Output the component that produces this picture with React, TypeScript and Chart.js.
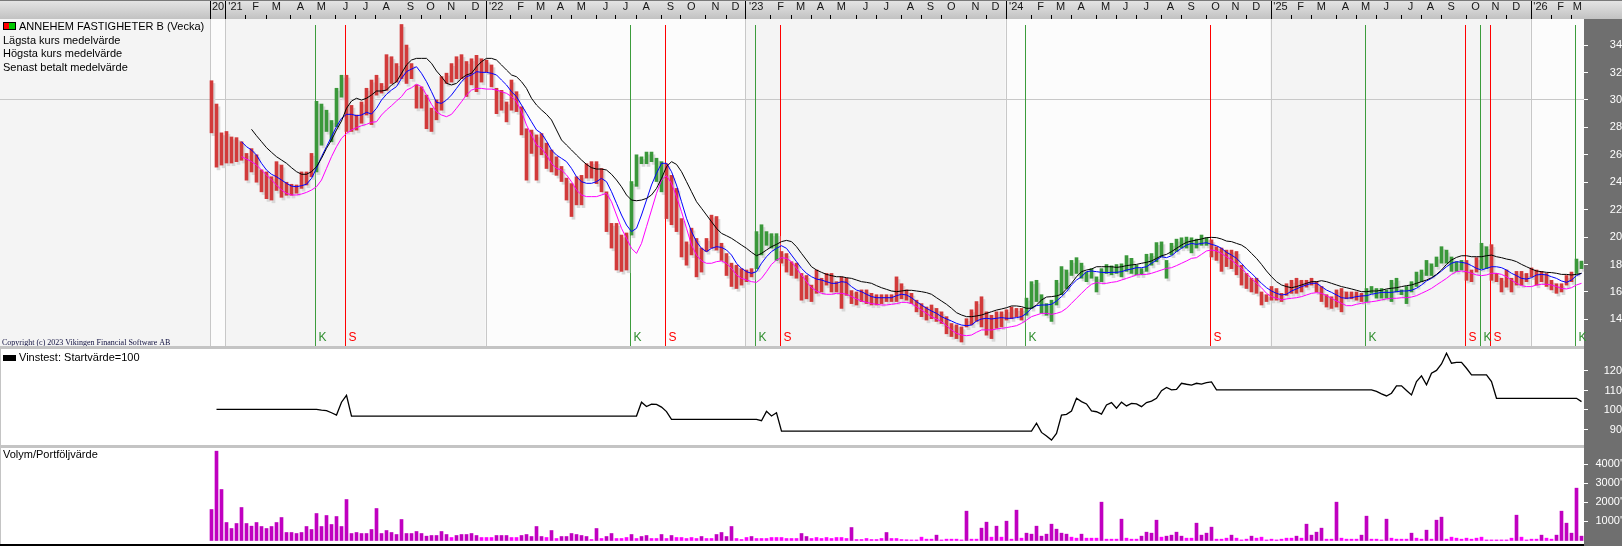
import React, { useEffect, useRef } from 'react';
import { Chart, registerables } from 'chart.js';

Chart.register(...registerables);

// ================= DATA =================
// Weekly bars, week 0 = week of 2020-12-14
const FIRST_WEEK_UTC = Date.UTC(2020, 11, 14);
const LAST_MONTH = { year: 2026, month: 2 };
const MONTH_LETTERS = ['J', 'F', 'M', 'A', 'M', 'J', 'J', 'A', 'S', 'O', 'N', 'D'];

const HIGH = [
  31.4, 29.7, 27.6, 27.7, 27.3, 27.25, 26.95, 26.1, 26.45, 26.0,
  24.9, 24.75, 24.4, 25.5, 25.25, 24.0, 23.85, 23.8, 24.75, 24.75,
  26.1, 29.9, 29.7, 29.25, 28.5, 30.85, 31.8, 31.8, 29.6, 28.9,
  29.85, 30.85, 31.45, 31.8, 31.2, 33.3, 33.15, 32.65, 35.5, 34.0,
  32.65, 31.1, 30.95, 30.35, 29.4, 30.0, 31.7, 31.95, 32.65, 33.15,
  33.3, 32.8, 33.0, 33.25, 33.0, 32.9, 32.55, 30.85, 30.7, 29.85,
  31.45, 30.6, 29.5, 27.9, 27.8, 27.45, 27.55, 26.85, 26.35, 25.85,
  25.15, 24.3, 23.9, 24.4, 24.5, 25.35, 25.5, 25.5, 25.0, 23.3,
  21.0, 21.0, 20.15, 20.3, 24.05, 26.0, 25.85, 26.2, 26.2, 25.75,
  25.5, 25.35, 24.5, 23.55, 21.35, 19.65, 20.65, 19.9, 19.2, 19.9,
  21.6, 21.5, 19.55, 18.8, 18.1, 17.95, 17.7, 17.6, 17.7, 20.4,
  20.9, 20.4, 20.25, 20.25, 18.95, 18.8, 18.2, 18.1, 17.35, 17.2,
  16.5, 17.6, 17.0, 17.35, 17.35, 16.75, 17.1, 17.0, 16.1, 16.0,
  16.15, 16.15, 15.9, 15.8, 15.8, 15.8, 15.8, 17.1, 16.6, 16.15,
  15.9, 15.4, 15.15, 14.9, 15.05, 14.8, 14.55, 14.2, 13.7, 13.6,
  13.45, 14.05, 14.7, 15.3, 15.65, 14.55, 14.3, 14.55, 14.55, 14.7,
  14.9, 14.8, 14.8, 15.55, 16.75, 16.85, 15.8, 15.15, 15.4, 16.85,
  17.85, 17.6, 18.3, 18.5, 18.1, 17.45, 17.7, 17.1, 17.7, 18.0,
  17.9, 18.0, 18.05, 18.65, 18.45, 17.95, 17.7, 18.75, 18.8, 19.6,
  19.65, 18.3, 19.55, 19.85, 19.95, 20.0, 19.95, 19.85, 20.15, 19.95,
  19.8, 19.3, 19.2, 19.05, 19.05, 18.95, 17.95, 17.35, 17.0, 17.0,
  16.0, 15.8, 16.4, 16.25, 15.9, 16.6, 16.85, 17.0, 16.85, 16.85,
  17.0, 16.75, 16.4, 15.8, 15.65, 16.15, 16.25, 16.0, 16.0, 16.0,
  15.9, 16.25, 16.4, 16.25, 16.25, 16.15, 16.85, 17.0, 16.15, 16.4,
  16.75, 17.45, 17.6, 18.3, 18.05, 18.55, 19.3, 19.05, 18.55, 18.2,
  18.3, 18.3, 17.6, 18.5, 19.55, 19.3, 19.45, 17.35, 17.0, 17.6,
  17.0, 17.5, 17.5, 17.35, 17.75, 17.6, 17.5, 17.35, 16.85, 16.6,
  16.6, 17.2, 17.45, 18.4, 18.25,
];

const LOW = [
  27.6, 25.1, 25.25, 25.4, 25.4, 25.5, 25.6, 24.15, 24.75, 24.0,
  23.3, 22.8, 22.7, 23.4, 22.9, 23.05, 23.05, 23.2, 23.55, 23.8,
  24.4, 24.75, 26.7, 27.7, 26.95, 28.05, 30.2, 27.7, 27.7, 27.8,
  28.3, 28.9, 28.2, 30.35, 30.5, 30.7, 31.2, 31.3, 31.55, 31.2,
  31.55, 29.4, 29.4, 27.9, 27.7, 28.55, 29.25, 31.2, 31.3, 31.55,
  31.55, 30.25, 31.1, 30.6, 31.3, 32.05, 30.95, 29.0, 29.25, 28.4,
  29.25, 29.15, 27.45, 24.15, 26.1, 24.15, 26.0, 25.0, 24.75, 24.5,
  24.05, 22.7, 21.5, 22.35, 22.35, 24.3, 24.3, 23.9, 23.3, 20.4,
  19.2, 17.6, 17.5, 17.6, 20.15, 23.7, 25.35, 25.35, 25.5, 24.05,
  23.3, 21.35, 20.9, 20.4, 18.55, 17.95, 18.7, 17.1, 17.45, 18.95,
  19.2, 19.05, 18.3, 17.2, 16.4, 16.25, 16.5, 16.75, 17.1, 17.7,
  18.7, 19.4, 19.2, 18.3, 18.1, 17.45, 17.2, 17.0, 15.4, 15.5,
  15.3, 15.9, 16.0, 16.5, 16.0, 16.0, 14.8, 15.75, 15.15, 15.05,
  15.3, 15.15, 15.05, 15.05, 15.15, 15.3, 15.3, 15.3, 15.5, 15.4,
  15.15, 14.55, 14.2, 13.95, 14.05, 13.85, 13.7, 12.95, 12.75, 12.6,
  12.35, 13.45, 13.6, 13.85, 13.45, 12.85, 12.6, 13.35, 13.45, 13.95,
  14.05, 14.2, 13.95, 14.3, 14.8, 15.3, 14.45, 14.3, 13.85, 15.05,
  15.8, 16.25, 17.2, 17.35, 17.0, 16.75, 17.0, 16.0, 16.75, 17.35,
  17.25, 17.35, 17.1, 17.5, 17.35, 17.25, 17.25, 17.5, 17.95, 18.2,
  18.55, 17.0, 18.7, 18.95, 19.2, 19.2, 18.85, 19.2, 19.4, 19.4,
  18.55, 18.3, 17.5, 17.85, 17.7, 17.25, 16.5, 16.25, 16.0, 15.9,
  15.05, 15.3, 15.4, 15.4, 15.3, 15.75, 15.9, 15.9, 16.0, 16.35,
  16.5, 16.0, 15.3, 14.9, 14.8, 14.9, 14.55, 15.5, 15.5, 15.4,
  15.3, 15.3, 15.9, 15.55, 15.55, 15.55, 15.3, 16.0, 15.8, 15.15,
  16.0, 16.4, 16.75, 17.2, 17.2, 17.85, 18.1, 18.1, 17.5, 17.5,
  17.6, 16.85, 16.75, 17.45, 17.7, 17.7, 16.85, 16.75, 16.0, 16.35,
  16.0, 16.5, 16.5, 16.75, 17.1, 16.5, 16.75, 16.4, 16.15, 15.9,
  16.0, 16.5, 16.75, 17.35, 17.7,
];

// "Högsta kurs medelvärde" (black)
const HIGH_AVG = [
  null, null, null, null, null, null, null, null, 27.86, 27.39,
  26.96, 26.52, 26.18, 25.86, 25.62, 25.38, 25.06, 24.77, 24.58, 24.58,
  24.77, 25.13, 25.74, 26.47, 27.08, 27.81, 28.46, 29.39, 29.92, 30.12,
  29.99, 30.12, 30.36, 30.65, 30.65, 30.72, 31.09, 31.33, 31.94, 32.55,
  32.91, 33.03, 33.03, 33.03, 32.67, 32.11, 31.69, 31.21, 31.09, 31.21,
  31.57, 31.82, 31.94, 32.42, 32.79, 33.03, 33.03, 32.91, 32.55, 32.18,
  31.82, 31.69, 31.33, 30.84, 30.12, 29.63, 29.27, 28.95, 28.54, 27.81,
  27.08, 26.71, 26.35, 25.98, 25.62, 25.3, 25.06, 24.96, 24.96, 24.89,
  24.58, 24.16, 23.67, 23.07, 22.7, 22.65, 22.7, 22.82, 23.07, 23.55,
  24.28, 25.13, 25.5, 25.3, 24.77, 24.04, 23.31, 22.58, 22.1, 21.61,
  21.12, 20.64, 20.27, 20.1, 19.91, 19.67, 19.42, 19.18, 18.89, 18.64,
  18.81, 19.06, 19.3, 19.47, 19.67, 19.76, 19.67, 19.3, 18.81, 18.33,
  17.84, 17.6, 17.43, 17.28, 17.19, 17.11, 17.11, 17.04, 16.99, 16.87,
  16.75, 16.7, 16.63, 16.46, 16.31, 16.19, 16.07, 16.02, 16.07, 16.12,
  16.12, 16.07, 16.02, 15.95, 15.83, 15.58, 15.34, 15.1, 14.81, 14.49,
  14.32, 14.2, 14.2, 14.25, 14.32, 14.44, 14.56, 14.68, 14.76, 14.85,
  14.98, 14.98, 14.93, 14.81, 14.81, 15.05, 15.41, 15.63, 15.66, 15.71,
  15.83, 16.22, 16.63, 17.11, 17.48, 17.6, 17.67, 17.84, 17.84, 17.84,
  17.84, 17.79, 17.84, 17.92, 17.97, 18.01, 18.09, 18.16, 18.26, 18.45,
  18.64, 18.74, 18.94, 19.18, 19.42, 19.62, 19.71, 19.79, 19.86, 19.96,
  19.98, 19.96, 19.86, 19.71, 19.67, 19.54, 19.42, 19.18, 18.81, 18.45,
  18.01, 17.53, 17.11, 16.75, 16.51, 16.39, 16.31, 16.39, 16.51, 16.63,
  16.75, 16.75, 16.82, 16.75, 16.63, 16.51, 16.39, 16.31, 16.22, 16.12,
  16.02, 16.02, 16.07, 16.07, 16.12, 16.22, 16.27, 16.31, 16.39, 16.46,
  16.51, 16.63, 16.75, 16.87, 17.04, 17.28, 17.6, 18.01, 18.33, 18.52,
  18.64, 18.64, 18.57, 18.57, 18.57, 18.64, 18.69, 18.57, 18.5, 18.4,
  18.33, 18.21, 18.01, 17.84, 17.67, 17.53, 17.48, 17.43, 17.41, 17.36,
  17.28, 17.28, 17.24, 17.28, 17.36,
];

// "Senast betalt medelvärde" (blue)
const CLOSE_AVG = [
  null, null, null, null, null, null, 26.96, 26.59, 26.35, 25.98,
  25.38, 24.89, 24.58, 24.4, 24.16, 23.92, 23.72, 23.67, 23.75, 23.85,
  24.28, 25.01, 25.86, 26.59, 27.32, 28.05, 28.66, 28.95, 28.95, 28.85,
  28.9, 29.1, 28.97, 29.39, 29.99, 30.41, 30.72, 30.97, 31.57, 32.06,
  32.25, 32.42, 31.94, 31.33, 30.6, 29.82, 29.75, 29.99, 30.36, 30.84,
  31.33, 31.69, 31.82, 32.06, 32.01, 32.01, 31.94, 31.82, 31.45, 31.09,
  30.6, 30.24, 29.63, 29.02, 28.41, 27.81, 27.56, 27.0, 26.35, 25.98,
  25.74, 25.5, 25.01, 24.4, 24.04, 23.92, 23.92, 24.04, 24.28, 24.04,
  23.31, 22.46, 21.61, 20.88, 20.4, 20.64, 21.61, 22.7, 23.8, 24.65,
  25.38, 25.38, 24.77, 23.8, 22.58, 21.37, 20.4, 19.67, 19.18, 18.94,
  19.18, 19.3, 19.25, 19.06, 18.69, 18.09, 17.72, 17.48, 17.36, 17.48,
  18.09, 18.57, 18.94, 19.18, 19.37, 19.18, 18.69, 18.21, 17.72, 17.36,
  17.11, 16.94, 16.87, 16.75, 16.63, 16.63, 16.75, 16.7, 16.39, 16.14,
  16.02, 15.83, 15.66, 15.58, 15.58, 15.58, 15.58, 15.73, 15.83, 15.78,
  15.58, 15.29, 15.05, 14.81, 14.61, 14.44, 14.2, 14.03, 13.88, 13.71,
  13.59, 13.54, 13.59, 13.88, 14.03, 14.08, 14.03, 14.08, 14.13, 14.08,
  14.08, 14.13, 14.2, 14.44, 14.81, 15.0, 15.05, 15.05, 15.1, 15.34,
  15.66, 16.02, 16.51, 16.87, 17.11, 17.48, 17.53, 17.48, 17.43, 17.41,
  17.43, 17.43, 17.48, 17.6, 17.67, 17.77, 17.77, 17.84, 18.09, 18.33,
  18.57, 18.5, 18.64, 18.94, 19.18, 19.42, 19.54, 19.47, 19.54, 19.59,
  19.47, 19.37, 19.18, 18.89, 18.69, 18.45, 18.09, 17.67, 17.36, 16.99,
  16.63, 16.31, 16.07, 15.9, 15.78, 15.83, 16.07, 16.22, 16.39, 16.51,
  16.63, 16.63, 16.39, 16.14, 15.97, 15.78, 15.58, 15.54, 15.58, 15.66,
  15.71, 15.73, 15.83, 15.9, 15.97, 15.97, 15.97, 16.02, 16.07, 16.07,
  16.12, 16.27, 16.51, 16.8, 16.99, 17.24, 17.53, 17.84, 18.09, 18.21,
  18.16, 18.09, 17.92, 17.72, 17.6, 17.72, 17.84, 17.84, 17.77, 17.6,
  17.36, 17.19, 16.99, 16.94, 17.04, 17.24, 17.28, 17.24, 17.11, 16.99,
  16.8, 16.7, 16.87, 17.19, 17.36,
];

// "Lägsta kurs medelvärde" (magenta)
const LOW_AVG = [
  null, null, null, null, null, null, 25.86, 25.69, 25.5, 25.26,
  24.89, 24.53, 24.16, 23.8, 23.43, 23.19, 23.07, 23.07, 23.14, 23.26,
  23.43, 23.67, 24.16, 25.01, 25.86, 26.59, 27.2, 27.56, 27.81, 27.98,
  28.12, 28.22, 28.37, 28.41, 28.9, 29.27, 29.58, 29.92, 30.24, 30.72,
  30.89, 31.14, 30.97, 30.36, 29.68, 29.14, 28.9, 28.78, 28.95, 29.39,
  29.87, 30.36, 30.72, 30.84, 30.84, 30.79, 30.79, 30.72, 30.6, 30.48,
  30.24, 29.87, 29.14, 28.17, 27.44, 26.71, 26.47, 25.98, 25.38, 25.01,
  24.89, 24.53, 24.04, 23.43, 23.07, 22.95, 22.95, 22.95, 23.07, 23.19,
  22.58, 21.61, 20.64, 19.91, 19.18, 18.81, 19.54, 20.76, 21.97, 23.19,
  24.16, 24.48, 23.92, 22.95, 21.85, 20.64, 19.42, 18.69, 18.26, 18.09,
  18.09, 18.21, 18.26, 18.09, 17.72, 17.24, 16.99, 16.87, 16.75, 16.7,
  16.99, 17.48, 18.01, 18.33, 18.5, 18.45, 18.21, 17.72, 17.24, 16.75,
  16.31, 16.07, 15.9, 15.83, 15.83, 15.9, 15.9, 15.83, 15.66, 15.49,
  15.34, 15.24, 15.15, 15.1, 15.05, 15.05, 15.1, 15.15, 15.24, 15.24,
  15.15, 14.93, 14.68, 14.44, 14.2, 14.03, 13.83, 13.54, 13.23, 12.98,
  12.86, 12.81, 12.86, 13.06, 13.23, 13.23, 13.23, 13.3, 13.35, 13.4,
  13.47, 13.54, 13.71, 13.95, 14.2, 14.32, 14.44, 14.44, 14.37, 14.44,
  14.56, 14.81, 15.17, 15.54, 15.9, 16.26, 16.56, 16.68, 16.63, 16.63,
  16.7, 16.75, 16.87, 16.99, 17.11, 17.24, 17.28, 17.28, 17.36, 17.48,
  17.6, 17.72, 17.77, 17.92, 18.09, 18.26, 18.45, 18.5, 18.74, 18.99,
  19.06, 18.99, 18.81, 18.57, 18.33, 18.01, 17.72, 17.36, 16.99, 16.63,
  16.31, 15.9, 15.66, 15.54, 15.42, 15.49, 15.54, 15.58, 15.66, 15.78,
  15.9, 15.95, 15.9, 15.73, 15.54, 15.34, 15.17, 15.0, 15.0, 15.1,
  15.17, 15.24, 15.29, 15.34, 15.42, 15.49, 15.54, 15.54, 15.58, 15.58,
  15.63, 15.73, 15.9, 16.07, 16.26, 16.51, 16.75, 16.99, 17.28, 17.48,
  17.53, 17.48, 17.36, 17.24, 17.19, 17.24, 17.36, 17.36, 17.28, 17.11,
  16.87, 16.63, 16.46, 16.39, 16.39, 16.51, 16.56, 16.56, 16.51, 16.39,
  16.26, 16.22, 16.31, 16.51, 16.63,
];

// Volume (thousands)
const VOLUME = [
  1623, 4677, 2670, 942, 628, 890, 1728, 890, 750, 942,
  733, 628, 733, 942, 1204, 419, 419, 366, 419, 733,
  576, 1413, 733, 1309, 838, 1256, 733, 2146, 366, 419,
  366, 366, 576, 1675, 366, 523, 419, 314, 1099, 366,
  366, 471, 366, 227, 262, 262, 471, 314, 157, 262,
  314, 314, 366, 262, 157, 157, 157, 262, 262, 262,
  157, 157, 262, 314, 209, 733, 209, 157, 523, 105,
  209, 209, 366, 314, 262, 209, 52, 628, 105, 209,
  366, 105, 105, 157, 314, 105, 209, 262, 105, 105,
  314, 105, 262, 157, 157, 105, 157, 105, 209, 105,
  105, 314, 419, 209, 733, 105, 52, 157, 209, 105,
  105, 105, 157, 157, 157, 105, 105, 105, 366, 209,
  105, 157, 105, 157, 105, 157, 157, 105, 680, 52,
  52, 105, 52, 52, 105, 419, 105, 105, 52, 40,
  30, 30, 175, 70, 70, 280, 30, 70, 70, 70,
  30, 1536, 70, 70, 646, 960, 175, 750, 175, 1012,
  70, 1588, 122, 384, 332, 750, 227, 332, 855, 593,
  384, 332, 175, 122, 332, 122, 122, 122, 2007, 70,
  70, 70, 1117, 122, 70, 70, 227, 436, 384, 1064,
  175, 227, 280, 436, 227, 122, 122, 907, 280, 384,
  698, 70, 70, 122, 280, 122, 30, 70, 227, 122,
  175, 30, 70, 30, 70, 122, 122, 227, 122, 855,
  280, 436, 646, 70, 70, 2007, 122, 70, 70, 70,
  280, 1274, 70, 70, 30, 1117, 122, 70, 70, 70,
  384, 122, 70, 541, 70, 1064, 1222, 70, 175, 122,
  70, 122, 70, 122, 175, 30, 30, 30, 30, 30,
  122, 1326, 175, 30, 70, 70, 280, 122, 70, 280,
  1536, 907, 384, 2740, 227,
];

// Vinstest (start value 100)
const VINSTEST = [
  null, 100.3, 100.3, 100.3, 100.3, 100.3, 100.3, 100.3, 100.3, 100.3,
  100.3, 100.3, 100.3, 100.3, 100.3, 100.3, 100.3, 100.3, 100.3, 100.3,
  100.3, 100.3, 99.9, 99.7, 98.6, 97.4, 104.0, 107.5, 96.9, 96.9,
  96.9, 96.9, 96.9, 96.9, 96.9, 96.9, 96.9, 96.9, 96.9, 96.9,
  96.9, 96.9, 96.9, 96.9, 96.9, 96.9, 96.9, 96.9, 96.9, 96.9,
  96.9, 96.9, 96.9, 96.9, 96.9, 96.9, 96.9, 96.9, 96.9, 96.9,
  96.9, 96.9, 96.9, 96.9, 96.9, 96.9, 96.9, 96.9, 96.9, 96.9,
  96.9, 96.9, 96.9, 96.9, 96.9, 96.9, 96.9, 96.9, 96.9, 96.9,
  96.9, 96.9, 96.9, 96.9, 96.9, 96.9, 104.0, 101.8, 103.0, 102.9,
  101.5, 99.2, 95.2, 95.2, 95.2, 95.2, 95.2, 95.2, 95.2, 95.2,
  95.2, 95.2, 95.2, 95.2, 95.2, 95.2, 95.2, 95.2, 95.2, 95.2,
  94.5, 99.3, 96.9, 98.6, 89.2, 89.2, 89.2, 89.2, 89.2, 89.2,
  89.2, 89.2, 89.2, 89.2, 89.2, 89.2, 89.2, 89.2, 89.2, 89.2,
  89.2, 89.2, 89.2, 89.2, 89.2, 89.2, 89.2, 89.2, 89.2, 89.2,
  89.2, 89.2, 89.2, 89.2, 89.2, 89.2, 89.2, 89.2, 89.2, 89.2,
  89.2, 89.2, 89.2, 89.2, 89.2, 89.2, 89.2, 89.2, 89.2, 89.2,
  89.2, 89.2, 89.2, 89.2, 89.2, 93.2, 88.5, 86.7, 84.6, 88.0,
  97.4, 97.8, 99.5, 106.0, 104.3, 103.1, 99.5, 99.1, 97.9, 102.6,
  103.8, 100.9, 104.0, 102.1, 103.4, 103.1, 101.7, 103.8, 104.6, 106.0,
  109.9, 111.6, 110.3, 110.6, 113.7, 113.2, 112.8, 113.7, 113.3, 114.0,
  114.4, 110.3, 110.3, 110.3, 110.3, 110.3, 110.3, 110.3, 110.3, 110.3,
  110.3, 110.3, 110.3, 110.3, 110.3, 110.3, 110.3, 110.3, 110.3, 110.3,
  110.3, 110.3, 110.3, 110.3, 110.3, 110.3, 110.3, 110.3, 110.3, 110.3,
  110.3, 110.3, 110.3, 109.5, 108.3, 107.2, 108.6, 112.4, 112.4, 110.0,
  107.7, 114.6, 117.5, 112.9, 118.9, 120.3, 123.6, 129.1, 124.0, 124.4,
  124.4, 121.4, 118.0, 118.0, 118.0, 118.0, 114.6, 106.0, 106.0, 106.0,
  106.0, 106.0, 106.0, 106.0, 106.0, 106.0, 106.0, 106.0, 106.0, 106.0,
  106.0, 106.0, 106.0, 106.0, 104.3,
];

// Signals: K = köp (buy), S = sälj (sell) — week indexes
const BUY_WEEKS = [21, 84, 109, 163, 231, 254, 273];
const SELL_WEEKS = [27, 91, 114, 200, 251, 256];

const PRICE_TICKS = [14, 16, 18, 20, 22, 24, 26, 28, 30, 32, 34];
const VINST_TICKS = [90, 100, 110, 120];
const VOLUME_TICKS = [1000, 2000, 3000, 4000];

const TITLE = 'ANNEHEM FASTIGHETER B (Vecka)';
const LEGEND_LINES = ['Lägsta kurs medelvärde', 'Högsta kurs medelvärde', 'Senast betalt medelvärde'];
const VINST_LABEL = 'Vinstest: Startvärde=100';
const VOLUME_LABEL = 'Volym/Portföljvärde';
const COPYRIGHT = 'Copyright (c) 2023 Vikingen Financial Software AB';

// ================= LAYOUT / STYLE =================
const W = 1622;
const AXIS_W = 38;
const STRIP_H = 19;
const H1 = 346;
const H2 = 99;
const H3 = 101;
const X_MIN = -42.3;
const X_MAX = 274.5;
const FONT = '"Liberation Sans", Arial, Helvetica, sans-serif';
const RED = '#d23a3a';
const GREEN = '#3a983a';
const AXIS_BG = '#6f6f6f';

const WEEK_MS = 7 * 86400000;

function buildMonths() {
  const raw: any[] = [];
  let y = 2020;
  let m = 11;
  while (y < LAST_MONTH.year || (y === LAST_MONTH.year && m <= LAST_MONTH.month)) {
    const k = Math.max(0, Math.ceil((Date.UTC(y, m, 1) - FIRST_WEEK_UTC) / WEEK_MS));
    let label;
    if (raw.length === 0) label = String(y % 100);
    else if (m === 0) label = "'" + String(y % 100).padStart(2, '0');
    else label = MONTH_LETTERS[m];
    raw.push({ k, label, isYear: m === 0 || raw.length === 0 });
    m++;
    if (m > 11) { m = 0; y++; }
  }
  return raw.map((r, i) => {
    const b = r.k - 0.2;
    const nb = i + 1 < raw.length ? raw[i + 1].k - 0.2 : X_MAX;
    return { boundary: b, center: Math.min(b + 2.15, (b + nb) / 2), label: r.label, isYear: r.isYear };
  });
}
const MONTHS = buildMonths();

function inPosition(k: number) {
  const ev = [...BUY_WEEKS.map((w) => [w, 1]), ...SELL_WEEKS.map((w) => [w, 0])].sort((a, b) => a[0] - b[0]);
  let s = 0;
  for (const [w, v] of ev) if (w <= k) s = v;
  return s === 1;
}

const fitRight = (s: any) => {
  s.width = AXIS_W;
  s.paddingTop = 0;
  s.paddingBottom = 0;
  s.paddingLeft = 0;
  s.paddingRight = 0;
};

const yAxisBase = (padding: number) => ({
  type: 'linear' as const,
  position: 'right' as const,
  afterFit: fitRight,
  border: { display: false },
  ticks: { color: '#ffffff', font: { family: FONT, size: 11 }, padding, crossAlign: 'far' as const },
});

const hiddenX = {
  type: 'linear' as const,
  min: X_MIN,
  max: X_MAX,
  offset: false,
  display: false,
};

const common = {
  animation: false as const,
  responsive: false,
  devicePixelRatio: 1,
  events: [] as any[],
  plugins: { legend: { display: false }, tooltip: { enabled: false } },
};

const signalData = (weeks: number[]) =>
  weeks.flatMap((k) => [{ x: k - 0.2, y: 35.45 }, { x: k - 0.2, y: 11.9 }, { x: k - 0.2, y: null }]);

const pricePanelPlugin = {
  id: 'pricePanel',
  beforeDraw(chart: any) {
    const { ctx, chartArea: a } = chart;
    const xs = chart.scales.x;
    ctx.save();
    const g = ctx.createLinearGradient(0, 0, 0, STRIP_H);
    g.addColorStop(0, '#e6e6e6');
    g.addColorStop(1, '#c2c2c2');
    ctx.fillStyle = g;
    ctx.fillRect(0, 0, W, STRIP_H);
    ctx.fillStyle = '#7a7a7a';
    ctx.fillRect(0, 0, W, 1);
    ctx.fillStyle = '#f4f4f4';
    ctx.fillRect(a.left, a.top, a.width, a.height);
    const years = MONTHS.filter((mm) => mm.isYear);
    years.forEach((yy, i) => {
      const x0 = xs.getPixelForValue(yy.boundary);
      const x1 = i + 1 < years.length ? xs.getPixelForValue(years[i + 1].boundary) : a.right;
      ctx.fillStyle = i % 2 === 0 ? '#fcfcfc' : '#f4f4f4';
      ctx.fillRect(x0, a.top, x1 - x0, a.height);
    });
    ctx.fillStyle = AXIS_BG;
    ctx.fillRect(a.right, STRIP_H, W - a.right, chart.height - STRIP_H);
    ctx.restore();
  },
  beforeDatasetsDraw(chart: any) {
    const { ctx, chartArea: a } = chart;
    const xs = chart.scales.x;
    ctx.save();
    ctx.strokeStyle = '#c8c8c8';
    ctx.lineWidth = 1;
    MONTHS.filter((mm) => mm.isYear).forEach((yy) => {
      const x = Math.round(xs.getPixelForValue(yy.boundary)) + 0.5;
      ctx.beginPath();
      ctx.moveTo(x, a.top);
      ctx.lineTo(x, a.bottom);
      ctx.stroke();
    });
    ctx.restore();
  },
  afterDraw(chart: any) {
    const { ctx } = chart;
    const xs = chart.scales.x;
    ctx.save();
    ctx.strokeStyle = '#000000';
    ctx.lineWidth = 1;
    MONTHS.forEach((mm) => {
      const x = Math.round(xs.getPixelForValue(mm.boundary)) + 0.5;
      ctx.beginPath();
      ctx.moveTo(x, mm.isYear ? 1 : STRIP_H - 4);
      ctx.lineTo(x, STRIP_H);
      ctx.stroke();
    });
    ctx.fillStyle = '#ff0000';
    ctx.fillRect(3, 23, 6, 7);
    ctx.fillStyle = '#00c800';
    ctx.fillRect(9, 23, 7, 7);
    ctx.strokeStyle = '#000';
    ctx.strokeRect(3.5, 22.5, 12, 7);
    ctx.font = `11px ${FONT}`;
    ctx.fillStyle = '#000';
    ctx.textBaseline = 'middle';
    ctx.fillText(TITLE, 19, 27);
    LEGEND_LINES.forEach((t, i) => ctx.fillText(t, 3, 40.5 + i * 13.5));
    ctx.font = '8px "Liberation Serif", "Times New Roman", serif';
    ctx.fillStyle = '#101040';
    ctx.textBaseline = 'alphabetic';
    ctx.fillText(COPYRIGHT, 2, 345);
    ctx.font = `12px ${FONT}`;
    BUY_WEEKS.forEach((k) => {
      ctx.fillStyle = '#2f8f2f';
      ctx.fillText('K', xs.getPixelForValue(k - 0.2) + 3, 341);
    });
    SELL_WEEKS.forEach((k) => {
      ctx.fillStyle = '#ff0000';
      ctx.fillText('S', xs.getPixelForValue(k - 0.2) + 3, 341);
    });
    ctx.restore();
  },
};

const lowerPanelPlugin = (label: string, icon: boolean, bottomLine: boolean) => ({
  id: 'lowerPanel',
  beforeDraw(chart: any) {
    const { ctx, chartArea: a } = chart;
    ctx.save();
    ctx.fillStyle = '#ffffff';
    ctx.fillRect(0, 0, W, chart.height);
    ctx.fillStyle = '#c4c4c4';
    ctx.fillRect(0, 0, a.right, 3);
    ctx.fillRect(0, 0, 1, chart.height);
    if (bottomLine) {
      ctx.fillStyle = '#000000';
      ctx.fillRect(0, chart.height - 2, a.right, 2);
    }
    ctx.fillStyle = AXIS_BG;
    ctx.fillRect(a.right, 0, W - a.right, chart.height);
    ctx.restore();
  },
  afterDraw(chart: any) {
    const { ctx } = chart;
    ctx.save();
    ctx.font = `11px ${FONT}`;
    ctx.fillStyle = '#000';
    ctx.textBaseline = 'middle';
    if (icon) {
      ctx.fillRect(3, 9, 13, 6);
      ctx.fillText(label, 19, 12);
    } else {
      ctx.fillText(label, 3, 9.5);
    }
    ctx.restore();
  },
});

export default function App() {
  const r1 = useRef<HTMLCanvasElement>(null);
  const r2 = useRef<HTMLCanvasElement>(null);
  const r3 = useRef<HTMLCanvasElement>(null);

  useEffect(() => {
    document.body.style.margin = '0';
    const idx = HIGH.map((_, k) => k);

    const c1 = new Chart(r1.current as HTMLCanvasElement, {
      type: 'bar',
      data: {
        datasets: [
          {
            type: 'line',
            data: signalData(BUY_WEEKS) as any,
            borderColor: '#3c9c3c',
            borderWidth: 1,
            pointRadius: 0,
            spanGaps: false,
            order: 12,
          },
          {
            type: 'line',
            data: signalData(SELL_WEEKS) as any,
            borderColor: '#ff0000',
            borderWidth: 1,
            pointRadius: 0,
            spanGaps: false,
            order: 11,
          },
          {
            type: 'bar',
            data: idx.map((k) => ({ x: k + 0.4, y: [LOW[k] - 0.2, HIGH[k] - 0.2] })) as any,
            backgroundColor: '#d8d8d8',
            barThickness: 3,
            grouped: false,
            order: 10,
          },
          {
            type: 'bar',
            data: idx.map((k) => ({ x: k, y: [LOW[k], HIGH[k]] })) as any,
            backgroundColor: idx.map((k) => (inPosition(k) ? GREEN : RED)),
            barThickness: 3,
            grouped: false,
            order: 9,
          },
          {
            type: 'line',
            data: idx.map((k) => ({ x: k, y: LOW_AVG[k] })) as any,
            borderColor: '#ff00ff',
            borderWidth: 1,
            pointRadius: 0,
            order: 3,
          },
          {
            type: 'line',
            data: idx.map((k) => ({ x: k, y: CLOSE_AVG[k] })) as any,
            borderColor: '#0000ff',
            borderWidth: 1,
            pointRadius: 0,
            order: 2,
          },
          {
            type: 'line',
            data: idx.map((k) => ({ x: k, y: HIGH_AVG[k] })) as any,
            borderColor: '#000000',
            borderWidth: 1,
            pointRadius: 0,
            order: 1,
          },
        ],
      },
      options: {
        ...common,
        layout: { padding: 0 },
        scales: {
          x: {
            type: 'linear',
            position: 'top',
            min: X_MIN,
            max: X_MAX,
            offset: false,
            afterBuildTicks: (s: any) => { s.ticks = MONTHS.map((mm) => ({ value: mm.center })); },
            afterFit: (s: any) => {
              s.height = STRIP_H;
              s.paddingLeft = 0;
              s.paddingRight = 0;
              s.paddingTop = 0;
              s.paddingBottom = 0;
            },
            grid: { display: false, drawTicks: false, offset: false },
            border: { display: false },
            ticks: {
              autoSkip: false,
              maxRotation: 0,
              minRotation: 0,
              color: '#151515',
              font: { family: FONT, size: 11 },
              padding: 5,
              callback: (_v: any, i: number) => (MONTHS[i] ? MONTHS[i].label : ''),
            },
          },
          y: {
            ...yAxisBase(15),
            min: 12.06,
            max: 35.9,
            afterBuildTicks: (s: any) => { s.ticks = PRICE_TICKS.map((v) => ({ value: v })); },
            grid: {
              color: (c: any) => (c.tick && c.tick.value === 30 ? '#c8c8c8' : 'rgba(0,0,0,0)'),
              tickColor: '#ffffff',
              tickLength: 4,
              drawOnChartArea: true,
            },
          },
        },
      } as any,
      plugins: [pricePanelPlugin],
    });

    const c2 = new Chart(r2.current as HTMLCanvasElement, {
      type: 'line',
      data: {
        datasets: [
          {
            data: idx.map((k) => ({ x: k, y: VINSTEST[k] })) as any,
            borderColor: '#000000',
            borderWidth: 1.3,
            pointRadius: 0,
          },
        ],
      },
      options: {
        ...common,
        layout: { padding: { top: 3 } },
        scales: {
          x: hiddenX,
          y: {
            ...yAxisBase(9),
            min: 82.05,
            max: 131.28,
            afterBuildTicks: (s: any) => { s.ticks = VINST_TICKS.map((v) => ({ value: v })); },
            grid: { drawOnChartArea: false, tickColor: '#ffffff', tickLength: 4 },
          },
        },
      } as any,
      plugins: [lowerPanelPlugin(VINST_LABEL, true, false)],
    });

    const c3 = new Chart(r3.current as HTMLCanvasElement, {
      type: 'bar',
      data: {
        datasets: [
          {
            data: idx.map((k) => ({ x: k, y: VOLUME[k] })) as any,
            backgroundColor: VOLUME.map((v) => (v < 190 ? '#ff00ff' : '#c000c0')),
            barThickness: 3,
            grouped: false,
          },
        ],
      },
      options: {
        ...common,
        layout: { padding: { top: 3, bottom: 2 } },
        scales: {
          x: hiddenX,
          y: {
            ...yAxisBase(1),
            min: -183,
            max: 4843,
            afterBuildTicks: (s: any) => { s.ticks = VOLUME_TICKS.map((v) => ({ value: v })); },
            grid: { drawOnChartArea: false, tickColor: '#ffffff', tickLength: 4 },
            ticks: {
              color: '#ffffff',
              font: { family: FONT, size: 11 },
              padding: 1,
              crossAlign: 'far',
              callback: (v: any) => `${v}'`,
            },
          },
        },
      } as any,
      plugins: [lowerPanelPlugin(VOLUME_LABEL, false, true)],
    });

    return () => {
      c1.destroy();
      c2.destroy();
      c3.destroy();
    };
  }, []);

  const cs = (top: number, h: number): React.CSSProperties => ({
    position: 'absolute',
    left: 0,
    top,
    width: W,
    height: h,
    display: 'block',
  });

  return (
    <div style={{ position: 'absolute', left: 0, top: 0, width: W, height: 546, overflow: 'hidden', background: '#fff' }}>
      <canvas ref={r1} width={W} height={H1} style={cs(0, H1)} />
      <canvas ref={r2} width={W} height={H2} style={cs(H1, H2)} />
      <canvas ref={r3} width={W} height={H3} style={cs(H1 + H2, H3)} />
    </div>
  );
}
